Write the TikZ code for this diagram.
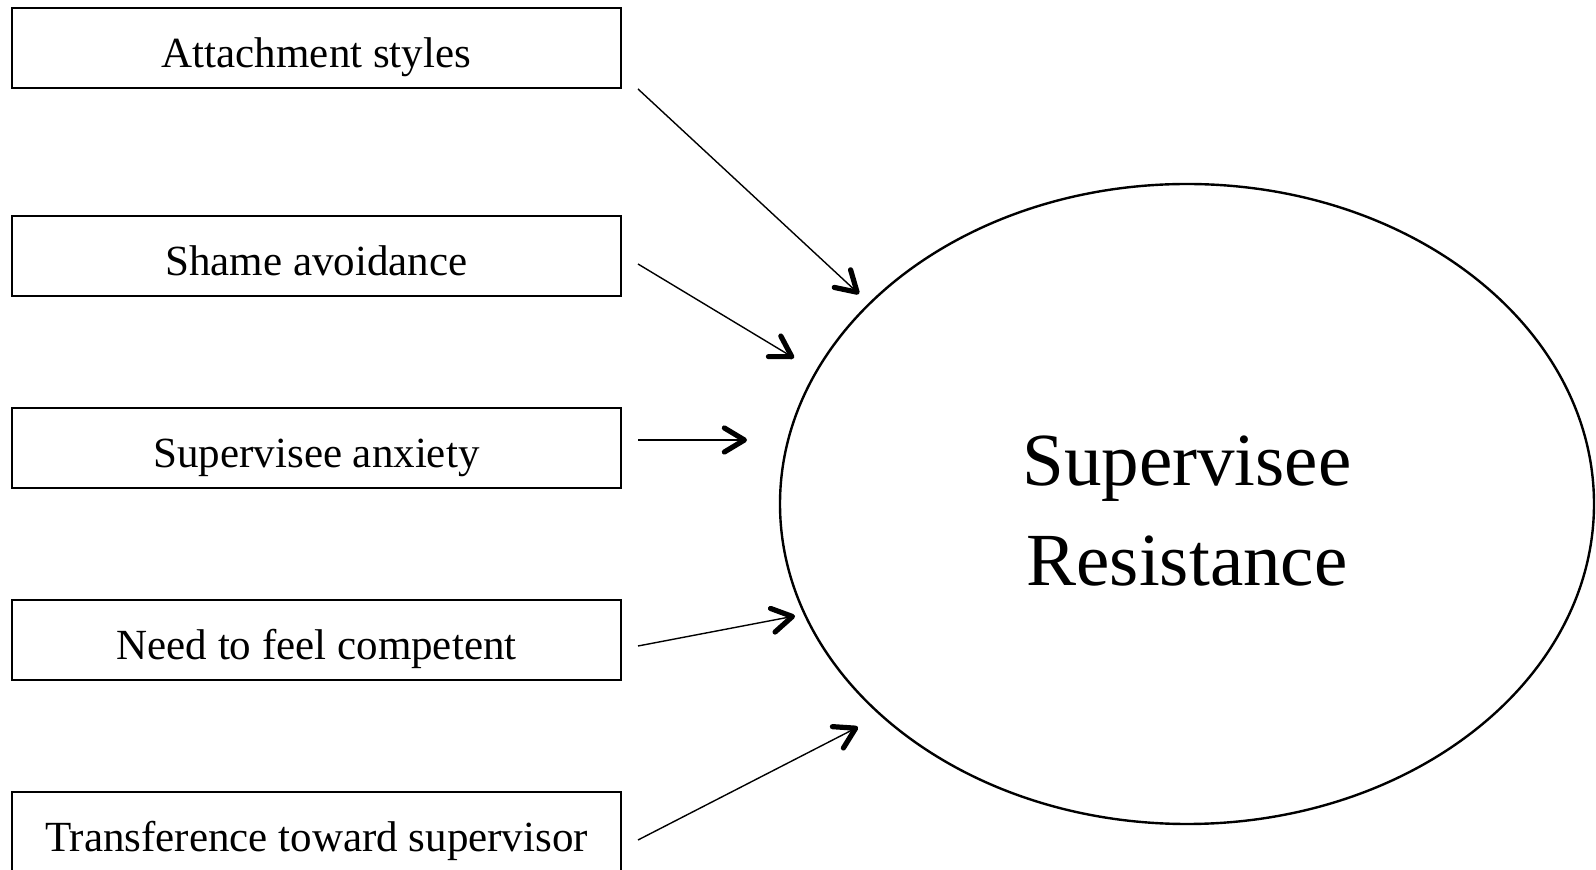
\documentclass[tikz,border=0pt]{standalone}
\usepackage{fontspec}
\setmainfont{Liberation Serif}
\usetikzlibrary{arrows.meta}
\usetikzlibrary{shapes.geometric}
\usetikzlibrary{positioning}

\begin{document}
\begin{tikzpicture}[x=0.5pt,y=-0.5pt]
      \tikzset{
        factor/.style={draw, line width=1pt, minimum width=304.5pt,
          minimum height=40pt, inner sep=0pt, text height=20pt, text depth=0pt,
          font=\fontsize{21.5}{26}\selectfont},
        outcome/.style={draw, ellipse, line width=1.2pt, minimum width=407pt,
          minimum height=320pt, inner sep=0pt},
        restext/.style={align=center, inner sep=0pt,
          font=\fontsize{37.5}{50}\selectfont},
        link/.style={line width=0.7pt,
          -{Straight Barb[length=10pt, width=12pt, line width=1.9pt 1, round]}},
      }
      \useasboundingbox (0,0) rectangle (1596,870);
      \node[factor, anchor=north west] (att) at (11,7) {Attachment styles};
      \node[factor, below=63pt of att] (sha) {Shame avoidance};
      \node[factor, below=55pt of sha] (anx) {Supervisee anxiety};
      \node[factor, below=55pt of anx] (com) {Need to feel competent};
      \node[factor, below=55pt of com] (tra) {Transference toward supervisor};
      \node[outcome] (res) at (1187,504) {};
      \node[restext] (restxt) at ([yshift=-3.75pt]res.center) {Supervisee\\Resistance};

      % arrow ends near the ellipse
      \coordinate (e1) at (859,294);
      \coordinate (e2) at (794,358);
      \coordinate (e3) at (747,440);
      \coordinate (e4) at (795,616);
      \coordinate (e5) at (858,727);

      \draw[link] ([xshift=8pt]att.south east) -- (e1);
      \draw[link] ([xshift=8pt, yshift=-4pt]sha.east) -- (e2);
      \draw[link] ([xshift=8pt, yshift=4pt]anx.east) -- (e3);
      \draw[link] ([xshift=8pt, yshift=-3pt]com.east) -- (e4);
      \draw[link] ([xshift=8pt, yshift=-4pt]tra.east) -- (e5);
    \end{tikzpicture}
\end{document}
